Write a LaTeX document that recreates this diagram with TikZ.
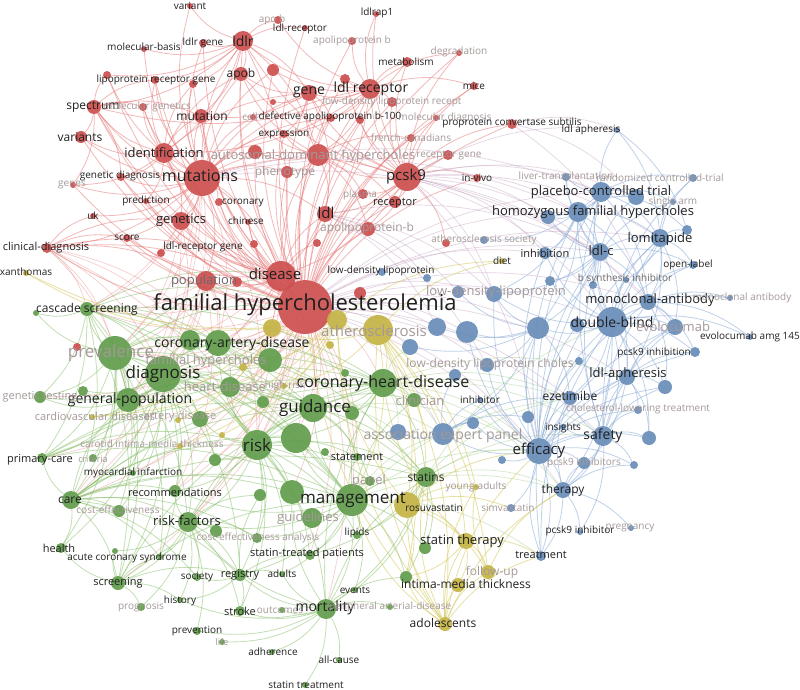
\documentclass[tikz,border=0pt]{standalone}
\usepackage{fontspec}
\setmainfont{Open Sans}
\usetikzlibrary{positioning}
\pgfdeclarelayer{bg}
\pgfdeclarelayer{edges}
\pgfdeclarelayer{labels}
\pgfsetlayers{bg,edges,main,labels}
\definecolor{cR}{RGB}{205,80,80}
\definecolor{cG}{RGB}{98,158,78}
\definecolor{cB}{RGB}{106,142,184}
\definecolor{cY}{RGB}{196,180,70}
\definecolor{eRc}{RGB}{230,115,115}
\definecolor{eGc}{RGB}{135,190,105}
\definecolor{eBc}{RGB}{140,172,215}
\definecolor{eYc}{RGB}{212,200,90}
\definecolor{ePc}{RGB}{190,150,185}
\definecolor{tdk}{RGB}{32,32,32}
\definecolor{tfd}{RGB}{165,152,152}
\definecolor{tmd}{RGB}{110,104,104}
\tikzset{
  kwc/.style={circle,inner sep=0pt,fill opacity=0.93,draw=none},
  lbl/.style={inner sep=0pt},
  dk/.style={text=tdk},
  fd/.style={text=tfd},
  md/.style={text=tmd},
  eR/.style={draw=eRc,line width=0.8pt,opacity=0.5},
  eRl/.style={draw=eRc,line width=0.7pt,opacity=0.35},
  eG/.style={draw=eGc,line width=0.8pt,opacity=0.5},
  eGl/.style={draw=eGc,line width=0.7pt,opacity=0.35},
  eB/.style={draw=eBc,line width=0.8pt,opacity=0.55},
  eY/.style={draw=eYc,line width=0.8pt,opacity=0.55},
  eP/.style={draw=ePc,line width=0.7pt,opacity=0.4},
}
\newcommand\kw[8]{%
  \node[kwc,fill=#4,minimum size={2*#3}] (#1) at (#2) {};%
  \begin{pgfonlayer}{labels}\node[lbl,#8,font=\fontsize{#7}{#7}\selectfont] (l#1) at (#6) {#5};\end{pgfonlayer}}
\newcommand\kd[4]{\node[kwc,fill=#4,minimum size={2*#3}] (#1) at (#2) {};}
\newcommand\hub[3]{\foreach \b in {#3}{\draw[#1] (#2) to[bend left=17] (\b);}}
\begin{document}
\begin{tikzpicture}[x=1pt,y=-1pt]
\begin{pgfonlayer}{bg}
\fill[white] (0,0) rectangle (800,690);
\end{pgfonlayer}
\path[use as bounding box] (0,0) rectangle (800,690);
% ---------------- red cluster
\kw{fh}{305,307}{27}{cR}{familial hypercholesterolemia}{305,305}{22}{dk}
\kw{dis}{281,276}{15}{cR}{disease}{275,274}{15}{dk}
\kw{pop}{206,281}{10}{cR}{population}{204,281}{13}{md}
\kw{mut}{202,178}{18}{cR}{mutations}{200,176}{16}{dk}
\kw{idf}{164,153}{10}{cR}{identification}{164,153}{13}{dk}
\kw{gen}{181,221}{9}{cR}{genetics}{181,220}{13}{dk}
\kw{pcsk}{407,177}{14}{cR}{pcsk9}{406,177}{15}{dk}
\kw{ldlrc}{370,89}{10}{cR}{ldl receptor}{371,89}{14}{dk}
\kw{ldlr}{243,41}{10}{cR}{ldlr}{243,41}{14}{dk}
\kw{apob}{241,74}{7}{cR}{apob}{241,74}{12}{dk}
\kw{gene}{309,93}{8}{cR}{gene}{309,92}{14}{dk}
\kw{mtn}{201,116}{7}{cR}{mutation}{202,116}{12}{dk}
\kw{spec}{94,107}{7}{cR}{spectrum}{93,107}{12}{dk}
\kw{vars}{81,137}{6}{cR}{variants}{80,137}{12}{dk}
\kw{molb}{144,49}{3}{cR}{molecular-basis}{144,47}{10}{dk}
\kw{ldlrg}{203,43}{4}{cR}{ldlr gene}{203,43}{10}{dk}
\kw{vrnt}{190,6}{3}{cR}{variant}{190,6}{10}{dk}
\kw{lrg}{155,80}{4}{cR}{lipoprotein receptor gene}{156,80}{10}{dk}
\kw{molg}{143,107}{4}{cR}{molecular genetics}{147,107}{10}{fd}
\kw{gdx}{121,177}{4}{cR}{genetic diagnosis}{120,176}{10}{dk}
\kw{genes}{73,185}{3}{cR}{genes}{72,185}{10}{fd}
\kw{pred}{146,201}{3}{cR}{prediction}{146,201}{10}{dk}
\kw{cor}{219,202}{4}{cR}{coronary}{243,203}{10}{dk}
\kw{uk}{93,216}{3}{cR}{uk}{93,216}{10}{dk}
\kw{score}{127,238}{4}{cR}{score}{127,238}{10}{dk}
\kw{ldlrgn}{254,244}{4}{cR}{ldl-receptor gene}{203,247}{10}{dk}
\kw{cldx}{47,248}{5}{cR}{clinical-diagnosis}{46,248}{11}{dk}
\kw{chin}{248,222}{3}{cR}{chinese}{246,221}{10}{dk}
\kw{ldl}{325,214}{8}{cR}{ldl}{326,213}{15}{dk}
\kw{rec}{395,202}{6}{cR}{receptor}{395,203}{11}{dk}
\kw{plas}{363,194}{5}{cR}{plasma}{360,195}{10}{fd}
\kw{apobb}{368,229}{7}{cR}{apolipoprotein-b}{367,228}{12}{fd}
\kw{adh}{318,155}{11}{cR}{autosomal-dominant hypercholes}{313,156}{13}{fd}
\kw{phen}{287,172}{6}{cR}{phenotype}{285,172}{12}{fd}
\kw{expr}{284,134}{4}{cR}{expression}{284,134}{10}{dk}
\kw{dab}{331,118}{4}{cR}{defective apolipoprotein b-100}{330,117}{10}{dk}
\kw{cell}{253,117}{3}{cR}{cell}{250,117}{10}{fd}
\kw{ldlrcp}{305,28}{3}{cR}{ldl-receptor}{300,29}{10}{dk}
\kw{apobtwo}{278,20}{4}{cR}{apo b}{272,20}{10}{fd}
\kw{ldlrap}{376,14}{3}{cR}{ldlrap1}{377,13}{10}{dk}
\kw{apobthree}{352,41}{4}{cR}{apolipoprotein b}{352,41}{10}{fd}
\kw{degr}{459,53}{3}{cR}{degradation}{459,52}{10}{fd}
\kw{metab}{407,62}{5}{cR}{metabolism}{406,62}{10}{dk}
\kw{mice}{474,86}{4}{cR}{mice}{474,86}{10}{dk}
\kw{ldlrec}{392,102}{5}{cR}{low-density lipoprotein recept}{392,102}{10}{fd}
\kw{moldx}{436,118}{3}{cR}{molecular diagnosis}{445,118}{10}{fd}
\kw{ppc}{512,124}{5}{cR}{proprotein convertase subtilis}{512,123}{10}{dk}
\kw{frc}{411,138}{4}{cR}{french-canadians}{411,138}{10}{fd}
\kw{recg}{448,155}{5}{cR}{receptor gene}{449,155}{10}{fd}
\kw{invivo}{477,178}{4}{cR}{in-vivo}{477,178}{10}{dk}
\kd{rA}{107,75}{4}{cR}
\kd{rB}{193,84}{4}{cR}
\kd{rC}{161,253}{4}{cR}
\kd{rD}{255,152}{7}{cR}
\kd{rE}{446,243}{4}{cR}
\kd{rF}{360,293}{6}{cR}
\kd{rG}{317,243}{4}{cR}
\kd{rH}{237,282}{5}{cR}
\kd{rI}{77,347}{4}{cR}
\kd{rJ}{273,70}{6}{cR}
\kd{rK}{345,79}{5}{cR}
\kd{rL}{273,102}{3}{cR}
\kd{rM}{360,120}{4}{cR}
% ---------------- green cluster
\kw{prev}{115,353}{17}{cG}{prevalence}{111,353}{17}{fd}
\kw{diag}{163,374}{18}{cG}{diagnosis}{163,374}{17}{dk}
\kw{cad}{218,343}{13}{cG}{coronary-artery-disease}{232,344}{14}{dk}
\kw{fhg}{270,360}{12}{cG}{familial hypercholes}{206,361}{13}{fd}
\kw{hd}{230,387}{10}{cG}{heart-disease}{225,387}{13}{fd}
\kw{casc}{87,309}{7}{cG}{cascade screening}{87,309}{12}{dk}
\kw{gpop}{128,400}{12}{cG}{general-population}{130,400}{14}{dk}
\kw{gtest}{40,397}{6}{cG}{genetic testing}{40,397}{11}{fd}
\kw{artd}{200,419}{8}{cG}{artery-disease}{180,417}{11}{fd}
\kw{crit}{93,458}{4}{cG}{criteria}{93,459}{9}{fd}
\kw{pcare}{42,458}{5}{cG}{primary-care}{40,460}{11}{dk}
\kw{mi}{133,473}{3}{cG}{myocardial infarction}{133,473}{10}{dk}
\kw{recs}{175,491}{6}{cG}{recommendations}{175,492}{11}{dk}
\kw{care}{71,500}{9}{cG}{care}{70,500}{12}{dk}
\kw{ce}{119,511}{6}{cG}{cost-effectiveness}{118,510}{10}{fd}
\kw{rf}{188,522}{10}{cG}{risk-factors}{187,521}{13}{dk}
\kw{hlth}{61,548}{5}{cG}{health}{59,548}{11}{dk}
\kw{acs}{160,557}{3}{cG}{acute coronary syndrome}{127,558}{10}{dk}
\kw{cea}{257,538}{5}{cG}{cost-effectiveness analysis}{258,538}{10}{fd}
\kw{scr}{118,583}{7}{cG}{screening}{118,583}{11}{dk}
\kw{soc}{197,577}{4}{cG}{society}{197,577}{10}{dk}
\kw{reg}{240,575}{6}{cG}{registry}{240,575}{11}{dk}
\kw{adults}{282,574}{3}{cG}{adults}{282,574}{10}{dk}
\kw{stp}{310,555}{5}{cG}{statin-treated patients}{307,554}{11}{dk}
\kw{hist}{180,600}{3}{cG}{history}{180,601}{10}{dk}
\kw{progn}{141,607}{4}{cG}{prognosis}{141,607}{10}{fd}
\kw{prevn}{197,631}{4}{cG}{prevention}{197,631}{10}{dk}
\kw{life}{222,642}{3}{cG}{life}{222,642}{9}{fd}
\kw{strk}{240,611}{5}{cG}{stroke}{240,611}{11}{dk}
\kw{outc}{282,610}{3}{cG}{outcomes}{280,610}{10}{fd}
\kw{mort}{326,609}{10}{cG}{mortality}{325,608}{14}{dk}
\kw{evts}{355,590}{3}{cG}{events}{355,590}{10}{dk}
\kw{pad}{390,607}{3}{cG}{peripheral arterial-disease}{390,607}{10}{fd}
\kw{adher}{272,652}{3}{cG}{adherence}{273,652}{10}{dk}
\kw{allc}{339,660}{3}{cG}{all-cause}{339,660}{10}{dk}
\kw{sttr}{305,685}{3}{cG}{statin treatment}{306,685}{10}{dk}
\kw{mgmt}{352,500}{16}{cG}{management}{353,500}{17}{dk}
\kw{guid}{312,518}{10}{cG}{guidelines}{308,518}{13}{fd}
\kw{lip}{357,535}{4}{cG}{lipids}{357,533}{10}{dk}
\kw{stns}{426,477}{10}{cG}{statins}{426,477}{12}{dk}
\kw{stmt}{357,457}{4}{cG}{statement}{357,457}{11}{dk}
\kw{panel}{370,481}{5}{cG}{panel}{369,481}{13}{fd}
\kw{guida}{313,408}{14}{cG}{guidance}{315,408}{17}{dk}
\kw{risk}{257,445}{15}{cG}{risk}{257,445}{17}{dk}
\kw{chd}{383,383}{14}{cG}{coronary-heart-disease}{383,383}{16}{dk}
\kw{clin}{414,400}{7}{cG}{clinician}{420,401}{13}{fd}
\kw{ims}{406,577}{6}{cG}{intima-media thickness}{466,584}{12}{dk}
\kd{gA}{190,340}{10}{cG}
\kd{gB}{296,438}{15}{cG}
\kd{gC}{215,460}{6}{cG}
\kd{gD}{292,492}{12}{cG}
\kd{gE}{216,531}{6}{cG}
\kd{gF}{115,551}{3}{cG}
\kd{gG}{425,548}{6}{cG}
\kd{gH}{83,391}{5}{cG}
\kd{gI}{36,313}{3}{cG}
\kd{gJ}{263,402}{6}{cG}
\kd{gK}{325,452}{4}{cG}
\kd{gL}{260,495}{6}{cG}
\kd{gM}{345,373}{4}{cG}
\kd{gN}{352,413}{7}{cG}
% ---------------- yellow cluster
\kw{ath}{378,330}{15}{cY}{atherosclerosis}{374,331}{15}{fd}
\kw{rosu}{407,505}{13}{cY}{rosuvastatin}{434,508}{10}{dk}
\kw{ya}{476,487}{3}{cY}{young-adults}{476,487}{10}{fd}
\kw{stth}{466,541}{8}{cY}{statin therapy}{462,541}{13}{dk}
\kw{adol}{445,624}{7}{cY}{adolescents}{443,623}{12}{dk}
\kw{fu}{488,572}{7}{cY}{follow-up}{492,572}{12}{fd}
\kw{diet}{502,261}{3}{cY}{diet}{502,261}{10}{dk}
\kw{xan}{26,273}{3}{cY}{xanthomas}{26,272}{10}{dk}
\kw{cvd}{92,417}{3}{cY}{cardiovascular diseases}{95,416}{11}{fd}
\kw{cimt}{180,446}{3}{cY}{carotid intima-media thickness}{152,444}{10}{fd}
\kw{hrisk}{284,386}{3}{cY}{high-risk}{285,386}{10}{fd}
\kd{yA}{272,328}{9}{cY}
\kd{yB}{337,320}{10}{cY}
\kd{yC}{330,345}{4}{cY}
\kd{yD}{243,367}{4}{cY}
\kd{yE}{222,435}{3}{cY}
\kd{yF}{178,420}{3}{cY}
\kd{yG}{458,585}{7}{cY}
% ---------------- blue cluster
\kw{pct}{601,192}{10}{cB}{placebo-controlled trial}{601,192}{13}{dk}
\kw{hofh}{578,212}{10}{cB}{homozygous familial hypercholes}{593,212}{13}{dk}
\kw{lomi}{660,238}{9}{cB}{lomitapide}{660,239}{13}{dk}
\kw{ldlc}{600,252}{9}{cB}{ldl-c}{601,251}{13}{dk}
\kw{inhb}{545,253}{6}{cB}{inhibition}{545,253}{11}{dk}
\kw{lt}{566,177}{4}{cB}{liver-transplantation}{566,177}{10}{fd}
\kw{rct}{693,178}{4}{cB}{randomized controlled-trial}{660,178}{10}{fd}
\kw{sa}{673,202}{3}{cB}{single arm}{673,202}{10}{fd}
\kw{ldlaphb}{617,130}{3}{cB}{ldl apheresis}{591,130}{10}{dk}
\kw{ol}{693,265}{4}{cB}{open-label}{688,265}{10}{dk}
\kw{bsi}{626,280}{3}{cB}{b synthesis inhibitor}{625,279}{10}{md}
\kw{mab}{648,302}{8}{cB}{monoclonal-antibody}{650,300}{13}{dk}
\kw{mabb}{730,298}{3}{cB}{monoclonal antibody}{742,298}{10}{fd}
\kw{db}{612,322}{15}{cB}{double-blind}{612,322}{14}{dk}
\kw{evo}{675,327}{8}{cB}{evolocumab}{673,327}{13}{fd}
\kw{evoa}{750,337}{3}{cB}{evolocumab amg 145}{750,337}{10}{dk}
\kw{pcsi}{695,352}{5}{cB}{pcsk9 inhibition}{654,353}{10}{dk}
\kw{ldla}{627,377}{8}{cB}{ldl-apheresis}{628,374}{13}{dk}
\kw{eze}{570,398}{7}{cB}{ezetimibe}{570,396}{12}{dk}
\kw{clt}{638,410}{4}{cB}{cholesterol-lowering treatment}{638,409}{10}{fd}
\kw{ins}{563,427}{3}{cB}{insights}{563,428}{10}{dk}
\kw{safe}{603,436}{10}{cB}{safety}{603,436}{14}{dk}
\kw{eff}{539,451}{13}{cB}{efficacy}{539,451}{15}{dk}
\kw{ther}{563,490}{8}{cB}{therapy}{563,490}{12}{dk}
\kw{pcsis}{584,463}{6}{cB}{pcsk9 inhibitors}{584,463}{10}{fd}
\kw{pcsione}{580,532}{3}{cB}{pcsk9 inhibitor}{580,531}{10}{dk}
\kw{preg}{631,528}{3}{cB}{pregnancy}{630,528}{10}{fd}
\kw{trt}{541,556}{5}{cB}{treatment}{541,555}{11}{dk}
\kw{aep}{443,434}{11}{cB}{association expert panel}{443,436}{14}{fd}
\kw{inhr}{480,400}{3}{cB}{inhibitor}{480,400}{10}{dk}
\kw{ldlch}{487,365}{7}{cB}{low-density lipoprotein choles}{490,364}{12}{fd}
\kw{ldld}{494,294}{8}{cB}{low-density-lipoprotein}{496,292}{13}{fd}
\kw{simv}{511,508}{4}{cB}{simvastatin}{508,508}{10}{fd}
\kw{ldlp}{382,272}{4}{cB}{low-density lipoprotein}{381,271}{10}{dk}
\kw{aths}{484,240}{4}{cB}{atherosclerosis society}{484,240}{10}{fd}
\kd{bA}{538,328}{11}{cB}
\kd{bB}{437,327}{9}{cB}
\kd{bC}{458,292}{6}{cB}
\kd{bD}{467,332}{11}{cB}
\kd{bE}{410,347}{8}{cB}
\kd{bF}{455,375}{6}{cB}
\kd{bG}{427,278}{4}{cB}
\kd{bH}{473,423}{6}{cB}
\kd{bI}{528,417}{6}{cB}
\kd{bJ}{502,460}{4}{cB}
\kd{bK}{687,230}{5}{cB}
\kd{bL}{665,387}{7}{cB}
\kd{bM}{649,438}{7}{cB}
\kd{bN}{577,325}{7}{cB}
\kd{bO}{593,285}{4}{cB}
\kd{bP}{550,281}{5}{cB}
\kd{bQ}{579,361}{4}{cB}
\kd{bR}{634,465}{4}{cB}
\kd{bS}{548,217}{7}{cB}
\kd{bT}{636,197}{8}{cB}
\kd{bU}{398,432}{8}{cB}
% ---------------- edges
\begin{pgfonlayer}{edges}
\hub{eRl}{fh}{diag,prev,cad,gpop,casc,care,rf,recs,risk,guida,mgmt,chd,hd,artd,mi,stp,stmt,gA,gB,gD,fhg,gC,gJ,pcare,gtest,scr,mort}
\hub{eRl}{mut}{diag,prev,casc,gpop,care,cad,risk}
\hub{eRl}{dis}{diag,prev,cad,gpop,casc,risk,recs,rf,hd,guida,mgmt,gB}
\hub{eRl}{cldx}{diag,prev,casc,gpop,risk,cad,gA}
\hub{eRl}{gen}{diag,prev,casc,cad,gpop}
\hub{eRl}{pop}{diag,prev,casc,cad,gpop,risk,care,recs}
\hub{eG}{diag}{prev,gpop,cad,casc,gtest,pcare,care,recs,rf,risk,guida,mgmt,chd,hd,artd,mi,ce,hlth,scr,acs,crit,stns,reg,gA,gB,gH,fhg,gC,gD}
\hub{eG}{prev}{casc,gpop,cad,gtest,pcare,care,hlth,scr,risk,rf,mgmt,chd,guida,ce,acs,mi,gA,gI,crit,fh,dis}
\hub{eG}{casc}{gpop,gtest,care,pcare,risk,guida,mgmt,cad,scr,gI,gA,chd,diag,fh,dis}
\hub{eG}{care}{pcare,hlth,scr,rf,recs,mi,ce,acs,risk,mgmt,guida,reg,gpop,soc,gB,gD,cea,chd,stns}
\hub{eG}{risk}{rf,mgmt,guida,chd,mort,reg,stmt,stns,cea,stp,recs,artd,cad,hd,panel,strk,gB,gD,gC,adults,lip}
\hub{eG}{mgmt}{guida,chd,stns,mort,lip,stp,adults,reg,evts,stmt,panel,recs,rf,cea,guid,gB,gD,gG,ims,clin}
\hub{eG}{mort}{strk,evts,adher,allc,sttr,reg,adults,outc,hist,prevn,rf,chd,stns,pad,life,gD,ims}
\hub{eG}{rf}{scr,acs,soc,hist,prevn,reg,recs,cea,strk,progn,gE,gF,gL,chd,guida}
\hub{eG}{scr}{hlth,acs,hist,progn,reg,gF,mgmt,guida}
\hub{eG}{chd}{guida,stns,clin,cad,gB,gN,gM,hd,fhg}
\hub{eG}{guida}{stmt,panel,clin,stns,cad,hd,gA,gN}
\hub{eG}{gpop}{cad,artd,cvd,gtest,gH,hd,pcare,chd,guida}
\hub{eG}{cad}{gA,fhg,hd,gJ,gM,stns}
\hub{eG}{reg}{strk,soc,adults,stp,hist,gL}
\hub{eG}{stns}{gG,ims,lip,mort,stp,evts}
\hub{eG}{pcare}{mgmt,guida,chd,risk}
\hub{eGl}{chd}{eze,eff,aep,bU,bE,safe,ther,ldla}
\hub{eGl}{mgmt}{eff,aep,ther,trt,eze}
\hub{eGl}{stns}{eff,eze,ther,safe,db}
\hub{eGl}{guida}{eff,aep,eze,bU}
\hub{eR}{fh}{mut,idf,gen,pcsk,ldlrc,ldlr,apob,gene,mtn,spec,vars,adh,phen,ldl,rec,plas,apobb,expr,dab,metab,mice,ldlrec,ppc,frc,recg,invivo,score,ldlrgn,cldx,cor,chin,pred,gdx,genes,uk,dis,pop,ldlrg,molg,degr,ldlrcp,lrg,rA,rB,rD,rJ,rK,rM,moldx,apobthree}
\hub{eR}{mut}{ldlr,apob,spec,vars,idf,gen,gdx,pred,molb,ldlrg,lrg,mtn,gene,ldlrc,pcsk,adh,dis,ldl,cldx,uk,score,pop,expr,dab,cor,phen,chin,genes,molg,rA,rB,rC,rD,vrnt,rJ,cell}
\hub{eR}{pcsk}{ldlrc,ppc,invivo,mice,recg,rec,ldl,adh,dis,degr,metab,apobb,plas,ldlr,apob,gene,frc,moldx,ldlrec,rM,rK,ldlrap,rE}
\hub{eR}{ldlrc}{ldlr,gene,metab,dab,expr,adh,ldlrec,apobthree,dis,idf,ldlrap,rJ,rK,spec,mice,degr,apobtwo}
\hub{eR}{ldlr}{apob,gene,ldlrg,molb,spec,vrnt,ldlrcp,lrg,mtn,idf,adh,rA,rB,apobtwo,dis}
\hub{eR}{dis}{idf,gen,pop,ldl,adh,spec,gdx,pred,score,chin,cor,rH,rG,mtn}
\hub{eR}{idf}{spec,vars,gen,gdx,mtn,apob,gene,rB,pred,lrg,molg,genes}
\hub{eR}{adh}{ldl,phen,gene,apob,frc,expr,dab,rec,rD,cell,plas,apobb}
\hub{eR}{gene}{apob,expr,mtn,dab,ldl,rL}
\hub{eR}{spec}{vars,lrg,molg,mtn,genes,rA,gdx}
\hub{eR}{cldx}{gen,score,dis,fh,pop,uk}
\hub{eP}{pcsk}{pct,hofh,ldlc,mab,db,evo,eff,lomi,inhb,ldld,ldlaphb,bS,bT}
\hub{eP}{ppc}{ldlaphb,bT,mab}
\hub{eP}{fh}{pct,hofh,ldlc,db,eff,inhb,ldld,ldlch,aep,eze,lomi,ldla,safe,mab,bA,bB,bD,bE,ther}
\hub{eP}{ldl}{ldld,bB,bC,bG,ldlch,ldlc}
\hub{eP}{mut}{hofh,ldlc,pct}
\hub{eY}{ath}{fh,rosu,stth,adol,ims,fu,ya,diet,stns,yA,yB,chd,mgmt,hrisk}
\hub{eY}{adol}{stth,rosu,fu,ims,ya,stns,mgmt,yB,eff,ther,trt,yG,fh,ath}
\hub{eY}{rosu}{stth,ya,simv,stns,eff,fu,ims,yB}
\hub{eY}{stth}{fu,ims,trt,yG,chd}
\hub{eY}{yB}{xan,cvd,cimt,hrisk,yD,yE,yF,yA,diet}
\hub{eY}{yA}{xan,cvd,yF,yD}
\hub{eY}{fu}{ther,ya}
\hub{eB}{eff}{safe,db,ldlc,pct,hofh,mab,ldla,eze,ther,evo,ins,pcsis,trt,aep,ldlch,ldld,inhr,inhb,lomi,simv,clt,pcsi,bA,bD,bH,bI,bJ,bN,bQ,bR,bM,bL}
\hub{eB}{db}{pct,hofh,mab,ldlc,lomi,safe,evo,ldla,eze,ther,pcsi,evoa,ol,bsi,ldld,inhb,mabb,rct,bA,bK,bO,bP,bL,bM,bN}
\hub{eB}{safe}{ldla,eze,ther,pct,ldlc,evo,mab,lomi,ins,clt,pcsis,bL,bM,bR,pcsione}
\hub{eB}{ldlc}{pct,hofh,lomi,inhb,mab,ldld,lt,sa,ol,bP,bO,bS,bT,bA}
\hub{eB}{pct}{hofh,lomi,mab,lt,rct,sa,ldlaphb,bT,bK,bS}
\hub{eB}{hofh}{lomi,mab,ldla,lt,inhb,ldld,aths,bS,bT,bA}
\hub{eB}{lomi}{mab,ol,ldla,sa,bsi,bK,rct,evo}
\hub{eB}{mab}{evo,pcsi,evoa,ol,mabb,bL}
\hub{eB}{ldla}{eze,ther,clt,pcsi,evo,bM,bL,bQ}
\hub{eB}{ther}{trt,pcsione,preg,eze,pcsis,bR}
\hub{eB}{bA}{bD,bB,bC,bE,ldld,ldlch,aep,eze}
\hub{eB}{aep}{bU,bH,bI,inhr,bF,eze}
\hub{eB}{ldlaphb}{bK,lomi}
\hub{eB}{trt}{eff,db,ldlc}
\end{pgfonlayer}
\end{tikzpicture}
\end{document}
